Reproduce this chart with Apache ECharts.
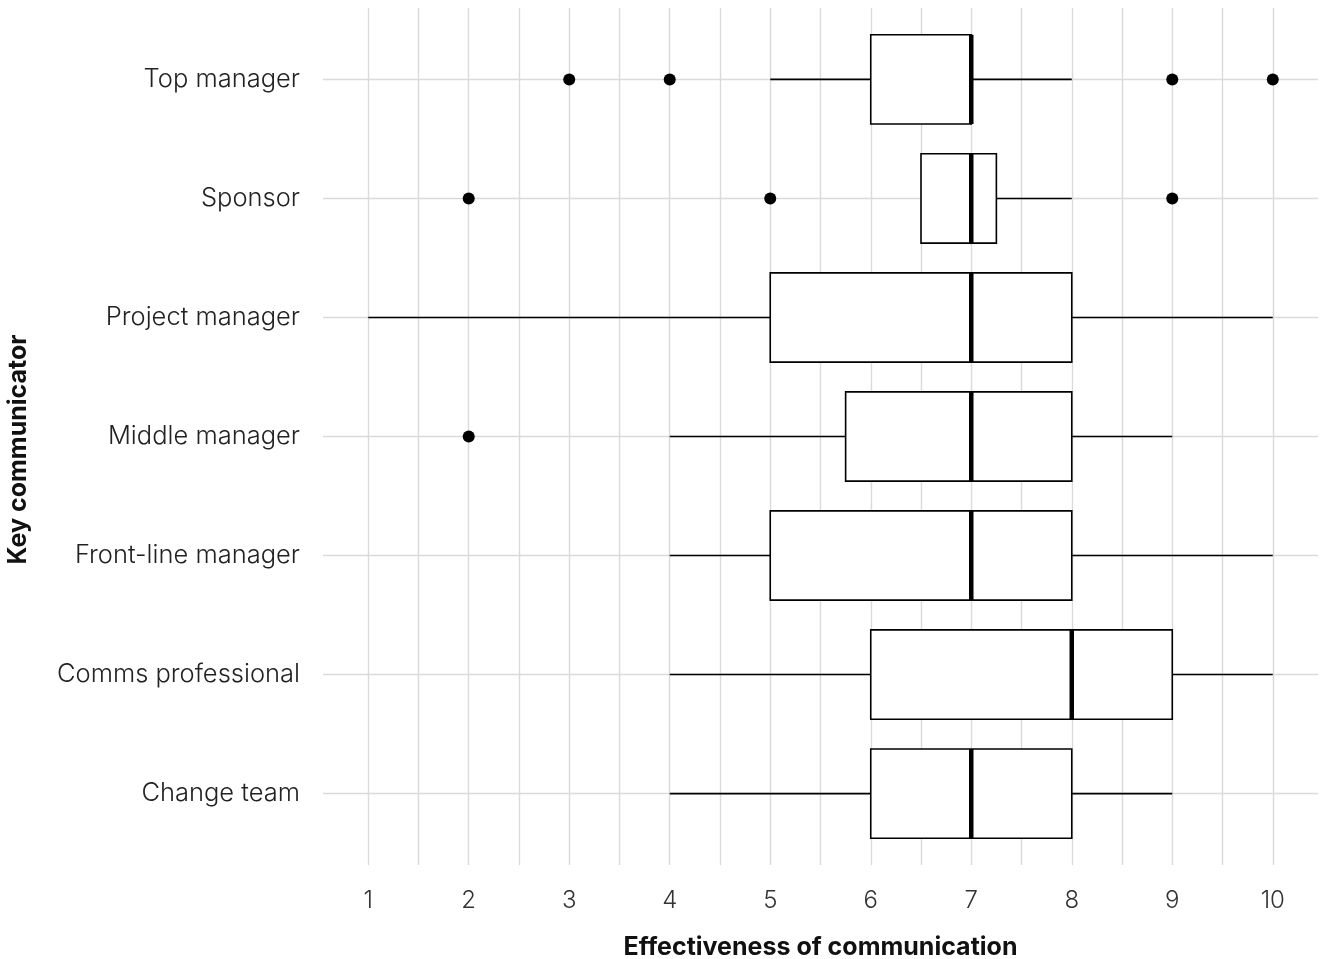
<!DOCTYPE html>
<html>
<head>
<meta charset="utf-8">
<script src="https://cdn.jsdelivr.net/npm/echarts@6/dist/echarts.min.js"></script>
<style>
  html, body { margin: 0; padding: 0; background: #fff; }
  #main { width: 1330px; height: 959px; }
</style>
</head>
<body>
<div id="main"></div>
<script>
// categories, top to bottom
var categories = ['Top manager', 'Sponsor', 'Project manager', 'Middle manager', 'Front-line manager', 'Comms professional', 'Change team'];
// box statistics per category
var whiskerLow  = [5, 6.5, 1, 4, 4, 4, 4];
var q1          = [6, 6.5, 5, 5.75, 5, 6, 6];
var median      = [7, 7, 7, 7, 7, 8, 7];
var q3          = [7, 7.25, 8, 8, 8, 9, 8];
var whiskerHigh = [8, 8, 10, 9, 10, 10, 9];
// outliers: [value, category index]
var outliers = [[3, 0], [4, 0], [9, 0], [10, 0], [2, 1], [5, 1], [9, 1], [2, 3]];
// tick labels
var xTicks = [1, 2, 3, 4, 5, 6, 7, 8, 9, 10];
var xGrid = [1, 1.5, 2, 2.5, 3, 3.5, 4, 4.5, 5, 5.5, 6, 6.5, 7, 7.5, 8, 8.5, 9, 9.5, 10];

var chart = echarts.init(document.getElementById('main'));

var boxData = categories.map(function(c, i) {
  return [i, whiskerLow[i], q1[i], median[i], q3[i], whiskerHigh[i]];
});
var catIdx = categories.map(function(c, i) { return i; });

var font = 'Inter';
var lineStyle = { stroke: '#000', lineWidth: 1.6 };

function renderBox(params, api) {
  var y = api.value(0);
  var lo = api.coord([api.value(1), y]);
  var a = api.coord([api.value(2), y]);
  var m = api.coord([api.value(3), y]);
  var b = api.coord([api.value(4), y]);
  var hi = api.coord([api.value(5), y]);
  var half = api.size([0, 0.375])[1];
  var cy = a[1];
  return {
    type: 'group',
    children: [
      { type: 'line', shape: { x1: lo[0], y1: cy, x2: a[0], y2: cy }, style: lineStyle },
      { type: 'line', shape: { x1: b[0], y1: cy, x2: hi[0], y2: cy }, style: lineStyle },
      { type: 'rect', shape: { x: a[0], y: cy - half, width: b[0] - a[0], height: half * 2 },
        style: { fill: '#fff', stroke: '#000', lineWidth: 1.6 } },
      { type: 'line', shape: { x1: m[0], y1: cy - half, x2: m[0], y2: cy + half },
        style: { stroke: '#000', lineWidth: 4.5 } }
    ]
  };
}

chart.setOption({
  backgroundColor: '#fff',
  animation: false,
  grid: { left: 323, right: 12, top: 8, bottom: 94, outerBoundsMode: 'none' },
  xAxis: {
    type: 'value',
    min: 0.55,
    max: 10.45,
    name: 'Effectiveness of communication',
    nameLocation: 'middle',
    nameGap: 70,
    nameTextStyle: { fontFamily: font, fontWeight: 'bold', fontSize: 25, color: '#111' },
    axisLine: { show: false },
    axisTick: { show: false, customValues: xGrid },
    axisLabel: { customValues: xTicks, fontFamily: font, fontWeight: 300, fontSize: 24, color: '#333', margin: 24 },
    splitLine: { show: true, lineStyle: { color: '#dadada', width: 1.4 } }
  },
  yAxis: {
    type: 'value',
    inverse: true,
    min: -0.6,
    max: 6.6,
    name: 'Key communicator',
    nameLocation: 'middle',
    nameGap: 292,
    nameRotate: 90,
    nameTextStyle: { fontFamily: font, fontWeight: 'bold', fontSize: 25, color: '#111', padding: [0, 26, 0, 0] },
    axisLine: { show: false },
    axisTick: { show: false, customValues: catIdx },
    axisLabel: {
      customValues: catIdx,
      fontFamily: font, fontWeight: 300, fontSize: 25.5, color: '#222', margin: 23,
      padding: [14, 0, 0, 0],
      formatter: function(v) { return categories[Math.round(v)]; }
    },
    splitLine: { show: true, lineStyle: { color: '#dadada', width: 1.4 } }
  },
  series: [
    {
      type: 'custom',
      renderItem: renderBox,
      encode: { x: [1, 2, 3, 4, 5], y: 0 },
      data: boxData,
      z: 2
    },
    {
      type: 'scatter',
      data: outliers,
      symbolSize: 12,
      itemStyle: { color: '#000', opacity: 1 },
      z: 3
    }
  ]
});
</script>
</body>
</html>
